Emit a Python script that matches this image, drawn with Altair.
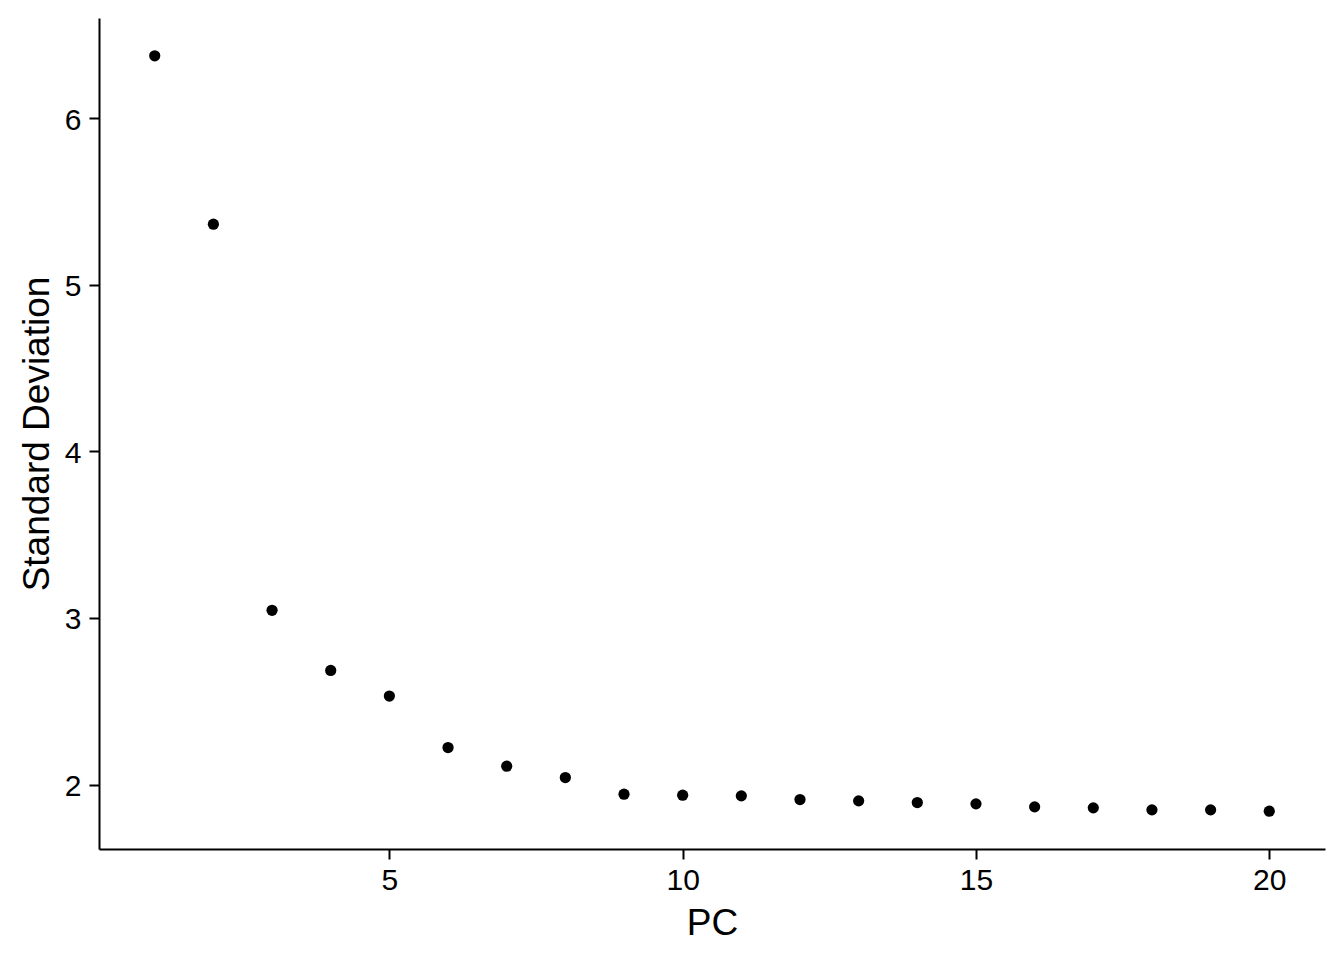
import altair as alt
import pandas as pd

pcs = list(range(1, 21))
std_dev = [6.375, 5.364, 3.046, 2.685, 2.531, 2.222, 2.110, 2.042, 1.942, 1.936,
           1.932, 1.910, 1.902, 1.892, 1.884, 1.866, 1.860, 1.848, 1.848, 1.840]
x_ticks = [5, 10, 15, 20]
y_ticks = [2, 3, 4, 5, 6]

df = pd.DataFrame({"PC": pcs, "Standard Deviation": std_dev})

FONT = "Liberation Sans"

chart = alt.Chart(df).mark_circle(color="black", opacity=1, size=126).encode(
    x=alt.X("PC:Q",
            scale=alt.Scale(domain=[0.05, 20.95], nice=False, zero=False),
            axis=alt.Axis(values=x_ticks, title="PC", grid=False,
                          titleBaseline="alphabetic", titleY=85)),
    y=alt.Y("Standard Deviation:Q",
            scale=alt.Scale(domain=[1.613, 6.602], nice=False, zero=False),
            axis=alt.Axis(values=y_ticks, title="Standard Deviation", grid=False,
                          titleBaseline="alphabetic", titleX=-51, labelOffset=2)),
).properties(
    width=1226,
    height=831,
    autosize=alt.AutoSizeParams(type="none"),
    padding={"left": 91, "top": 10, "right": 11, "bottom": 95},
).configure_view(
    stroke=None
).configure_axis(
    domainColor="black",
    domainWidth=2,
    tickColor="black",
    tickWidth=2,
    tickSize=10,
    labelFont=FONT,
    labelFontSize=30,
    labelColor="black",
    labelPadding=6,
    titleFont=FONT,
    titleFontSize=37,
    titleFontWeight="normal",
    titleColor="black",
).configure_axisY(
    labelPadding=8
)

chart.save("out.html", embed_options={"renderer": "svg", "actions": False})
